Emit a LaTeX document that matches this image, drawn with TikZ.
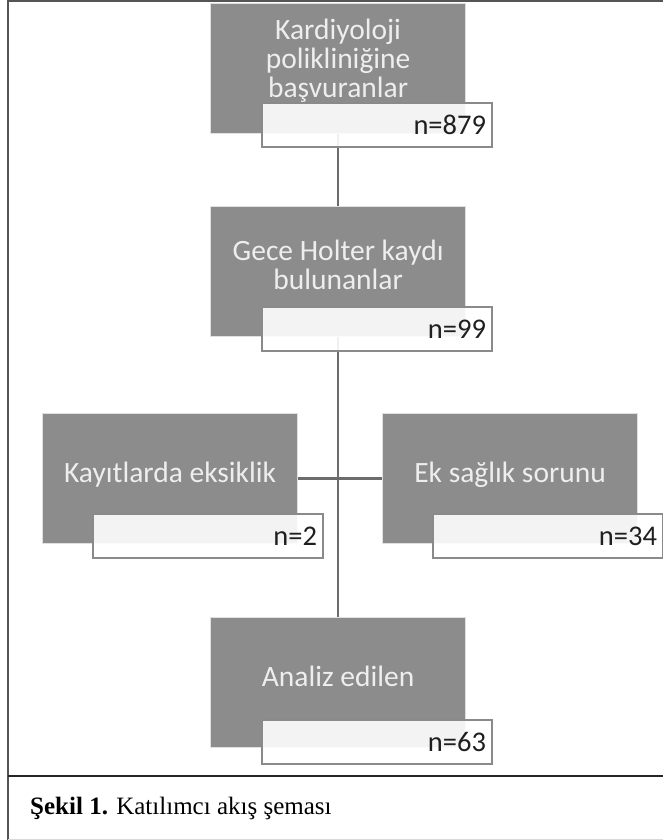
\documentclass[tikz,border=0pt]{standalone}
\usepackage{fontspec}
\setmainfont{Liberation Serif}
\newfontfamily\boxfont{Carlito}
\definecolor{boxgray}{RGB}{140,140,140}
\definecolor{boxtext}{RGB}{238,238,238}
\definecolor{cntborder}{RGB}{138,138,138}
\definecolor{linkgray}{RGB}{108,108,108}
\definecolor{framegray}{RGB}{85,85,85}
% text of a step, set a little above the middle of its box
\newcommand{\steptext}[2][-4pt]{\raisebox{#1}[0pt][0pt]{\begin{tabular}[c]{@{}c@{}}#2\end{tabular}}}
\begin{document}
\begin{tikzpicture}[x=1pt, y=-1pt,
    grybox/.style={rectangle, anchor=north west, fill=boxgray, draw=black!12, line width=1.2pt,
        minimum width=255pt, minimum height=130pt, inner sep=0pt,
        text=boxtext, font=\boxfont\fontsize{29.5}{28}\selectfont},
    cntbox/.style={rectangle, anchor=north west, fill=white, fill opacity=0.9, text opacity=1,
        draw=cntborder, line width=2pt, minimum width=230pt, minimum height=44pt,
        inner xsep=6pt, inner ysep=0pt, text width=218pt, align=right,
        text=black!88, font=\boxfont\fontsize{28.5}{30}\selectfont},
    link/.style={draw=linkgray, line width=2.5pt}]
    \useasboundingbox (0,0) rectangle (663,840);

    % Frame and caption
    \draw[framegray, line width=2pt] (8,840) -- (8,1.5) -- (663,1.5);
    \draw[black!85, line width=1.5pt] (8,776) -- (663,776);
    \draw[black!15, line width=1pt] (8,839.5) -- (663,839.5);
    \node[anchor=base west, inner sep=0pt, font=\fontsize{25}{28}\selectfont] (capt) at (30,814)
        {\textbf{Şekil 1.} Katılımcı akış şeması};

    % Steps
    \node[grybox] (kard) at (210,3) {\steptext[0pt]{Kardiyoloji\\polikliniğine\\başvuranlar}};
    \node[grybox] (holt) at (210,206) {\steptext{Gece Holter kaydı\\bulunanlar}};
    \node[grybox] (eksk) at (42,413) {\steptext{Kayıtlarda eksiklik}};
    \node[grybox] (sorn) at (382,413) {\steptext{Ek sağlık sorunu}};
    \node[grybox] (anlz) at (210,617) {\steptext{Analiz edilen}};

    % Links
    \draw[link] (kard.south) -- (holt.north);
    \draw[link] (holt.south) -- (anlz.north);
    \draw[link] (eksk.east) -- (sorn.west);

    % Counts
    \node[cntbox] (nkard) at (261,102) {n=879};
    \node[cntbox] (nholt) at (261,306) {n=99};
    \node[cntbox] (neksk) at (92,513) {n=2};
    \node[cntbox] (nsorn) at (432,513) {n=34};
    \node[cntbox] (nanlz) at (261,719) {n=63};
\end{tikzpicture}
\end{document}
